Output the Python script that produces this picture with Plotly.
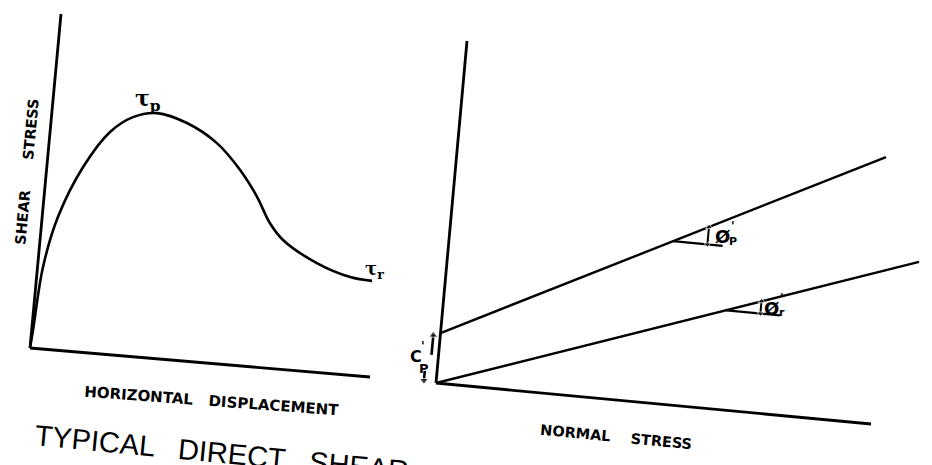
import plotly.graph_objects as go

# ---- Left panel: typical shear stress vs horizontal displacement (diagram units 0-10)
disp = [0, 0.04, 0.16, 0.46, 1.06, 1.75, 2.38, 3.07, 3.97, 4.90, 5.65, 6.22, 6.66, 7.09, 8.14, 9.15, 9.80]
shear = [0, 0.54, 2.44, 3.96, 5.51, 6.62, 7.12, 7.30, 7.08, 6.56, 5.82, 5.06, 4.32, 3.85, 3.25, 2.92, 2.86]

# ---- Right panel: failure envelopes (normal stress vs shear stress, diagram units 0-10)
normal_peak = [0, 9.79]
tau_peak = [1.46, 7.78]
normal_res = [0, 10.76]
tau_res = [0, 4.83]

# angle reference ticks (horizontal in the diagram's frame)
peak_tick_n = [5.11, 6.25]
peak_tick_t = [4.76, 4.76]
res_tick_n = [6.47, 7.70]
res_tick_t = [2.90, 2.90]
peak_arrow_n = [5.90, 5.90]
peak_arrow_t = [4.76, 5.27]
res_arrow_n = [7.25, 7.25]
res_arrow_t = [2.90, 3.26]
# c'p dimension arrows, left of the vertical axis
cp_up_n = [-0.16, -0.16]
cp_up_t = [0.80, 1.38]
cp_dn_n = [-0.28, -0.28]
cp_dn_t = [0.04, 0.32]

axis_len = 10

# The scanned drawing has slightly skewed axes: map diagram units to page frame
LEFT = dict(o=(30, 348), ex=(34.0, 2.9), ey=(3.1, -33.4))
RIGHT = dict(o=(436, 383), ex=(43.5, 4.1), ey=(3.1, -34.2))


def frame(panel, xs, ys):
    ox, oy = panel["o"]
    (ax, ay), (bx, by) = panel["ex"], panel["ey"]
    px = [ox + ax * x + bx * y for x, y in zip(xs, ys)]
    py = [oy + ay * x + by * y for x, y in zip(xs, ys)]
    return px, py


fig = go.Figure()
BLACK = "#000000"


def add_line(panel, xs, ys, width=2.6, shape="linear", markers=None, msizes=None):
    px, py = frame(panel, xs, ys)
    kw = {}
    mode = "lines"
    if markers:
        mode = "lines+markers"
        kw["marker"] = dict(symbol=markers, size=msizes or 5, color=BLACK)
    fig.add_trace(go.Scatter(x=px, y=py, mode=mode,
                             line=dict(color=BLACK, width=width, shape=shape),
                             hoverinfo="skip", showlegend=False, **kw))


# axes of both panels
for panel in (LEFT, RIGHT):
    add_line(panel, [0, 0], [0, axis_len], width=2.8)
    add_line(panel, [0, axis_len], [0, 0], width=2.8)

add_line(LEFT, disp, shear, width=2.6, shape="spline")
add_line(RIGHT, normal_peak, tau_peak, width=2.4)
add_line(RIGHT, normal_res, tau_res, width=2.4)
add_line(RIGHT, peak_tick_n, peak_tick_t, width=2.2)
add_line(RIGHT, res_tick_n, res_tick_t, width=2.2)
add_line(RIGHT, peak_arrow_n, peak_arrow_t, width=2.0, markers=["triangle-down", "triangle-up"], msizes=[6, 6])
add_line(RIGHT, res_arrow_n, res_arrow_t, width=2.0, markers=["triangle-down", "triangle-up"], msizes=[6, 6])
add_line(RIGHT, cp_up_n, cp_up_t, width=2.6, markers=["circle", "triangle-up"], msizes=[0, 8])
add_line(RIGHT, cp_dn_n, cp_dn_t, width=2.6, markers=["triangle-down", "circle"], msizes=[8, 0])


def note(x, y, text, size=13, angle=0, family="DejaVu Sans", bold=True):
    t = f"<b>{text}</b>" if bold else text
    fig.add_annotation(x=x, y=y, xref="x", yref="y", text=t, showarrow=False,
                       textangle=angle, font=dict(family=family, size=size, color=BLACK))


note(27, 172, "SHEAR      STRESS", size=14.5, angle=-84.7)
note(211, 401, "HORIZONTAL   DISPLACEMENT", size=15, angle=4.2)
note(616, 437, "NORMAL    STRESS", size=14.5, angle=5.5)
note(148, 100, "τ<sub>p</sub>", size=22, family="DejaVu Serif")
note(374, 270, "τ<sub>r</sub>", size=18, family="DejaVu Serif")
note(722, 236, "Ø", size=18)
note(733, 241, "P", size=11)
note(733, 226, "'", size=12)
note(771, 308, "Ø", size=18)
note(782, 312, "r", size=11)
note(782, 298, "'", size=12)
note(416, 356, "C", size=16)
note(424, 368, "P", size=13)
note(423, 346, "'", size=12)
note(221, 453, "TYPICAL   DIRECT   SHEAR", size=29, angle=5.5,
     family="Liberation Sans", bold=False)

fig.update_layout(
    width=932, height=465,
    margin=dict(l=0, r=0, t=0, b=0),
    paper_bgcolor="white", plot_bgcolor="white",
    xaxis=dict(range=[0, 932], visible=False, fixedrange=True),
    yaxis=dict(range=[465, 0], visible=False, fixedrange=True),
    showlegend=False,
)

fig.write_html("out.html", config={"displayModeBar": False},
               post_script="document.body.style.margin='0px';document.body.style.overflow='hidden';")
